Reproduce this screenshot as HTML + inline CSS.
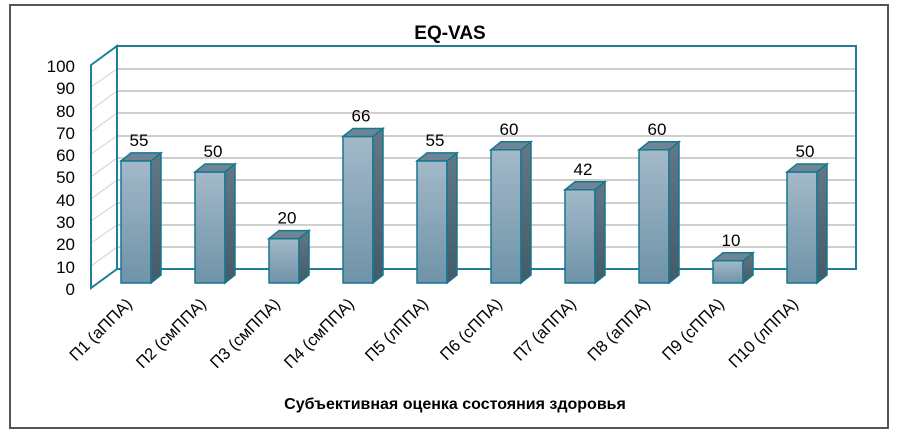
<!DOCTYPE html>
<html><head><meta charset="utf-8"><style>
body{margin:0;background:#fff}
svg{display:block;font-family:"Liberation Sans",Arial,sans-serif}
</style></head><body>
<svg width="901" height="434" viewBox="0 0 901 434">
<defs>
<linearGradient id="gf" x1="0" y1="0" x2="0" y2="1"><stop offset="0" stop-color="#a3b9c9"/><stop offset="1" stop-color="#6f93a8"/></linearGradient>
<linearGradient id="gs" x1="0" y1="0" x2="0" y2="1"><stop offset="0" stop-color="#637887"/><stop offset="1" stop-color="#435a68"/></linearGradient>
</defs>
<rect x="10" y="5" width="878" height="423" fill="#fff" stroke="#555" stroke-width="2"/>
<text x="450" y="39" font-size="19" font-weight="bold" text-anchor="middle">EQ-VAS</text>
<g stroke="#cfcfcf" stroke-width="2">
<line x1="117" y1="247" x2="856" y2="247"/><line x1="117" y1="225" x2="856" y2="225"/><line x1="117" y1="203" x2="856" y2="203"/><line x1="117" y1="180" x2="856" y2="180"/><line x1="117" y1="158" x2="856" y2="158"/><line x1="117" y1="136" x2="856" y2="136"/><line x1="117" y1="113" x2="856" y2="113"/><line x1="117" y1="91" x2="856" y2="91"/><line x1="117" y1="69" x2="856" y2="69"/>
</g>
<g stroke="#d8d8d8" stroke-width="1.2">
<line x1="91" y1="266" x2="117" y2="247"/><line x1="91" y1="243" x2="117" y2="225"/><line x1="91" y1="221" x2="117" y2="203"/><line x1="91" y1="199" x2="117" y2="180"/><line x1="91" y1="177" x2="117" y2="158"/><line x1="91" y1="154" x2="117" y2="136"/><line x1="91" y1="132" x2="117" y2="113"/><line x1="91" y1="110" x2="117" y2="91"/><line x1="91" y1="87" x2="117" y2="69"/>
</g>
<rect x="117" y="46" width="739" height="223" fill="none" stroke="#1f7f9a" stroke-width="2"/>
<polygon points="91,65 117,46 117,269 91,288" fill="none" stroke="#1f7f9a" stroke-width="2"/>
<g font-size="17" text-anchor="end" fill="#000">
<text x="75" y="295">0</text><text x="75" y="273">10</text><text x="75" y="250">20</text><text x="75" y="228">30</text><text x="75" y="206">40</text><text x="75" y="183">50</text><text x="75" y="161">60</text><text x="75" y="139">70</text><text x="75" y="117">80</text><text x="75" y="94">90</text><text x="75" y="72">100</text>
</g>
<g id="bars" stroke="#16778f" stroke-width="1.5"></g>
<g id="vals" font-size="17" text-anchor="middle"></g>
<g id="labs" font-size="16.5"></g>
<text x="455" y="409" font-size="16" font-weight="bold" text-anchor="middle">Субъективная оценка состояния здоровья</text>
</svg>
<script>
var v=[55,50,20,66,55,60,42,60,10,50];
var n=["П1 (аППА)","П2 (смППА)","П3 (смППА)","П4 (смППА)","П5 (лППА)","П6 (сППА)","П7 (аППА)","П8 (аППА)","П9 (сППА)","П10 (лППА)"];
var ns="http://www.w3.org/2000/svg",b=document.getElementById("bars"),t=document.getElementById("vals"),l=document.getElementById("labs");
function p(pts,f){var e=document.createElementNS(ns,"polygon");e.setAttribute("points",pts);e.setAttribute("fill",f);b.appendChild(e);}
for(var i=0;i<10;i++){var x=121+74*i,y=283-v[i]*2.22;
p(x+","+y+" "+(x+30)+","+y+" "+(x+30)+",283 "+x+",283","url(#gf)");
p((x+30)+","+y+" "+(x+40)+","+(y-8)+" "+(x+40)+",275 "+(x+30)+",283","url(#gs)");
p(x+","+y+" "+(x+10)+","+(y-8)+" "+(x+40)+","+(y-8)+" "+(x+30)+","+y,"#6e8595");
var e=document.createElementNS(ns,"text");e.setAttribute("x",x+18);e.setAttribute("y",y-15);e.textContent=v[i];t.appendChild(e);
var q=document.createElementNS(ns,"text");q.setAttribute("text-anchor","end");q.setAttribute("transform","translate("+(x+12)+",305) rotate(-45)");q.textContent=n[i];l.appendChild(q);}
</script>
</body></html>
